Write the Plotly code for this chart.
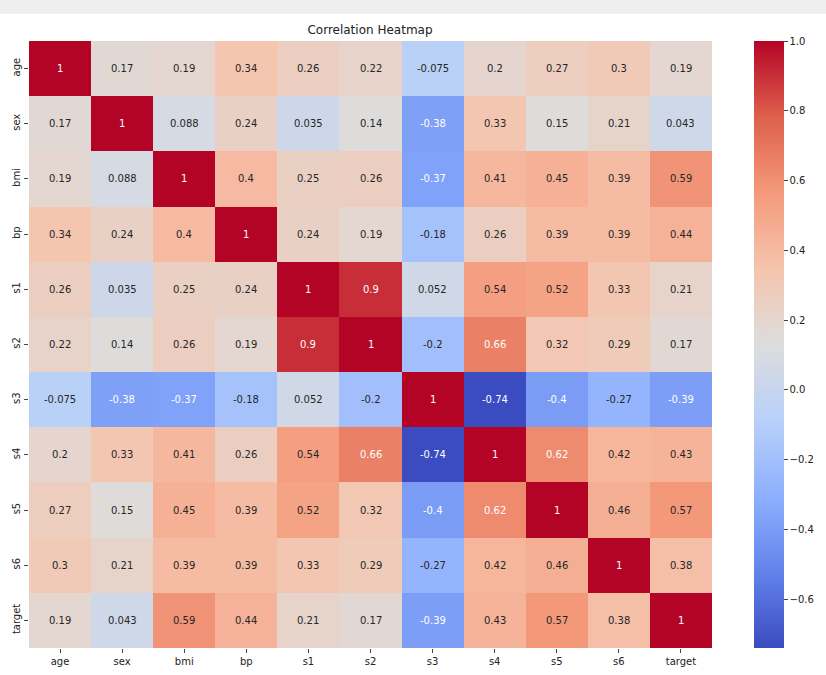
import plotly.graph_objects as go

labels = ["age", "sex", "bmi", "bp", "s1", "s2", "s3", "s4", "s5", "s6", "target"]

row_age = [1, 0.17, 0.19, 0.34, 0.26, 0.22, -0.075, 0.2, 0.27, 0.3, 0.19]
row_sex = [0.17, 1, 0.088, 0.24, 0.035, 0.14, -0.38, 0.33, 0.15, 0.21, 0.043]
row_bmi = [0.19, 0.088, 1, 0.4, 0.25, 0.26, -0.37, 0.41, 0.45, 0.39, 0.59]
row_bp = [0.34, 0.24, 0.4, 1, 0.24, 0.19, -0.18, 0.26, 0.39, 0.39, 0.44]
row_s1 = [0.26, 0.035, 0.25, 0.24, 1, 0.9, 0.052, 0.54, 0.52, 0.33, 0.21]
row_s2 = [0.22, 0.14, 0.26, 0.19, 0.9, 1, -0.2, 0.66, 0.32, 0.29, 0.17]
row_s3 = [-0.075, -0.38, -0.37, -0.18, 0.052, -0.2, 1, -0.74, -0.4, -0.27, -0.39]
row_s4 = [0.2, 0.33, 0.41, 0.26, 0.54, 0.66, -0.74, 1, 0.62, 0.42, 0.43]
row_s5 = [0.27, 0.15, 0.45, 0.39, 0.52, 0.32, -0.4, 0.62, 1, 0.46, 0.57]
row_s6 = [0.3, 0.21, 0.39, 0.39, 0.33, 0.29, -0.27, 0.42, 0.46, 1, 0.38]
row_target = [0.19, 0.043, 0.59, 0.44, 0.21, 0.17, -0.39, 0.43, 0.57, 0.38, 1]

z = [row_age, row_sex, row_bmi, row_bp, row_s1, row_s2, row_s3, row_s4, row_s5, row_s6, row_target]

coolwarm = [
    [0.0, "rgb(59,76,192)"],
    [0.125, "rgb(98,130,234)"],
    [0.25, "rgb(141,176,254)"],
    [0.375, "rgb(184,208,249)"],
    [0.5, "rgb(221,221,221)"],
    [0.625, "rgb(245,196,173)"],
    [0.75, "rgb(244,154,123)"],
    [0.875, "rgb(222,96,77)"],
    [1.0, "rgb(180,4,38)"],
]

zmin = min(min(r) for r in z)
zmax = 1.0

fig = go.Figure()
fig.add_trace(go.Heatmap(
    z=z, x=labels, y=labels,
    colorscale=coolwarm, zmin=zmin, zmax=zmax,
    hoverongaps=False,
    colorbar=dict(
        x=(758 - 29) / 687, xanchor="left", xpad=0,
        y=0, yanchor="bottom", len=1, lenmode="fraction", ypad=0,
        thickness=30, outlinewidth=0,
        tickvals=[1.0, 0.8, 0.6, 0.4, 0.2, 0.0, -0.2, -0.4, -0.6],
        tickformat=".1f", ticks="outside", ticklen=4, tickcolor="#444",
        tickfont=dict(family="DejaVu Sans", size=10, color="#222"),
    ),
))

def fmt(v):
    return "{:.2g}".format(v)

annotations = []
for i, row in enumerate(z):
    for j, v in enumerate(row):
        color = "white" if (v >= 0.6 or v <= -0.36) else "#262626"
        annotations.append(dict(
            x=labels[j], y=labels[i], xref="x", yref="y",
            text=fmt(v), showarrow=False,
            font=dict(family="DejaVu Sans", size=10, color=color),
        ))

fig.update_layout(
    width=826, height=675,
    margin=dict(l=29, r=110, t=41, b=27),
    paper_bgcolor="white", plot_bgcolor="white",
    title=dict(text="Correlation Heatmap", x=(372 - 29) / 687, xref="paper", xanchor="center",
               y=1 - 30 / 675, yref="container", yanchor="middle",
               font=dict(family="DejaVu Sans", size=12, color="#222")),
    annotations=annotations,
    xaxis=dict(showgrid=False, zeroline=False, ticks="outside", ticklen=4, tickcolor="#444",
               automargin=False,
               tickfont=dict(family="DejaVu Sans", size=10, color="#222"), showline=False),
    yaxis=dict(showgrid=False, zeroline=False, autorange="reversed", ticks="outside", ticklen=4,
               tickcolor="#444", tickangle=-90, automargin=False,
               tickfont=dict(family="DejaVu Sans", size=10, color="#222"), showline=False),
    shapes=[dict(type="rect", xref="paper", yref="paper", x0=-0.1, x1=1.25,
                 y0=1 + (41 - 14) / 607, y1=1.1, fillcolor="#efefef", line=dict(width=0), layer="below")],
)

fig.write_html("out.html", config={"displayModeBar": False},
               post_script="document.body.style.margin='0';")
